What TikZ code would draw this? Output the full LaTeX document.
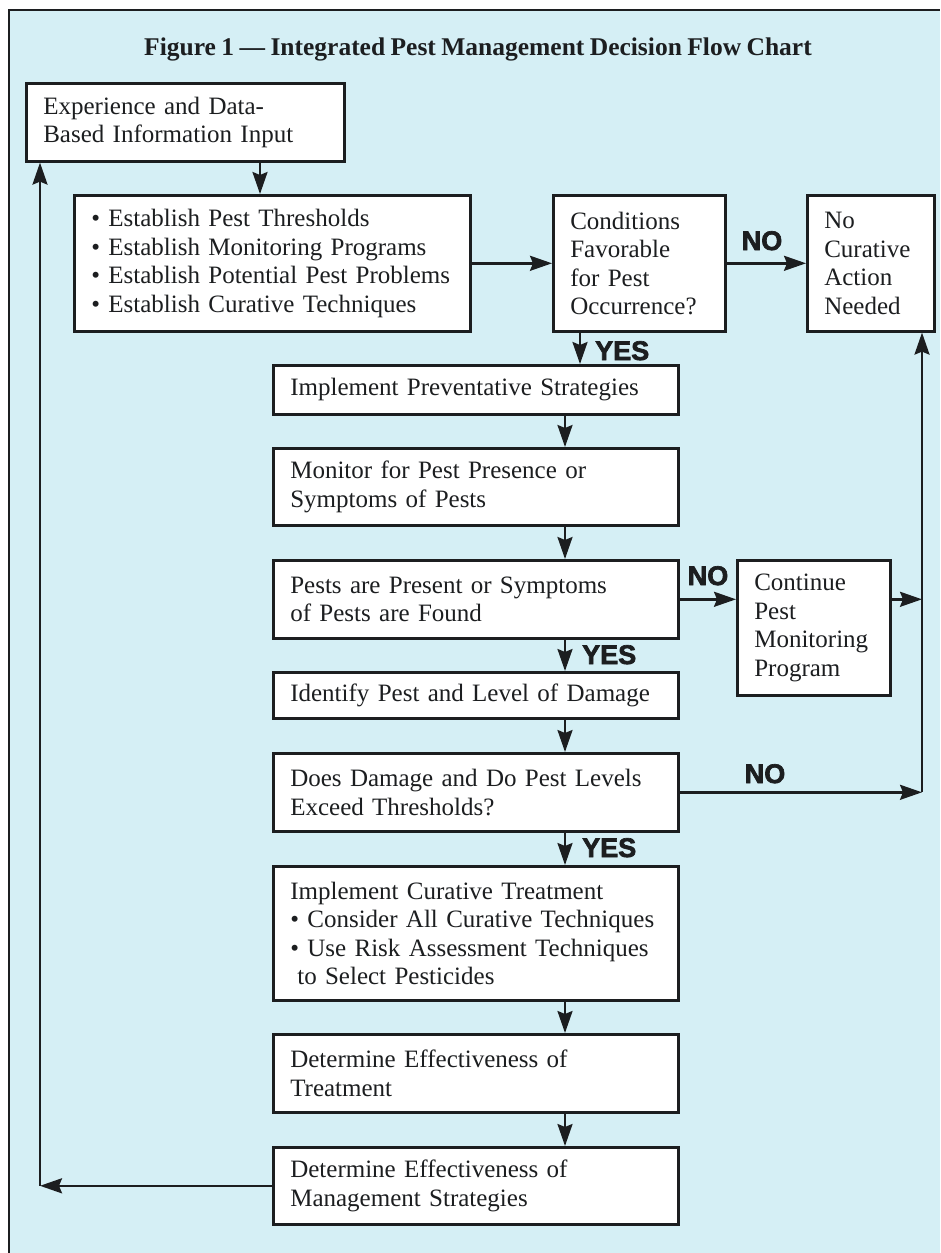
\documentclass[tikz,border=0pt]{standalone}
\usepackage{fontspec}
\setmainfont{Liberation Serif}[WordSpace=0.85]
\setsansfont{Liberation Sans}
\newfontfamily\heavyfont{Liberation Sans}[BoldFeatures={FakeBold=2.5}]
\usetikzlibrary{arrows.meta,calc}
\definecolor{panel}{RGB}{213,239,245}
\definecolor{ink}{RGB}{28,30,32}
\begin{document}
\hyphenpenalty=10000 \exhyphenpenalty=10000
\begin{tikzpicture}[x=1pt,y=-1pt,
  box/.style={draw=ink, fill=white, line width=2.6pt, anchor=north west, inner xsep=17pt, inner ysep=0pt, align=left, font=\fontsize{25}{28.5}\selectfont, text=ink},
  arr/.style={draw=ink, line width=2.4pt, -{Stealth[length=22pt,width=15pt,inset=3pt]}},
  lab/.style={font=\heavyfont\bfseries\fontsize{27}{27}\selectfont, text=ink, inner sep=0pt}]
\useasboundingbox (0,0) rectangle (940,1253);
\fill[white] (0,0) rectangle (940,1253);
\fill[panel] (9,10) rectangle (940,1253);
\draw[ink, line width=2pt] (9,1253) -- (9,10) -- (940,10);

\node[font=\bfseries\fontsize{25.5}{28}\selectfont, text=ink, anchor=base] (title) at (478,55) {Figure 1 — Integrated Pest Management Decision Flow Chart};

% boxes
\node[box, text width=284pt, minimum height=78pt] (A) at (25,82) {\mbox{Experience and Data-}\\\mbox{Based Information Input}};
\node[box, text width=362pt, minimum height=136pt] (B) at (73,194) {\mbox{• Establish Pest Thresholds}\\\mbox{• Establish Monitoring Programs}\\\mbox{• Establish Potential Pest Problems}\\\mbox{• Establish Curative Techniques}};
\node[box, text width=138pt, minimum height=136pt] (C) at (552,194) {\mbox{Conditions}\\\mbox{Favorable}\\\mbox{for Pest}\\\mbox{Occurrence?}};
\node[box, text width=93pt, minimum height=136pt] (D) at (806,194) {\mbox{No}\\\mbox{Curative}\\\mbox{Action}\\\mbox{Needed}};
\node[box, text width=371pt, minimum height=49pt] (E) at (272,364) {\mbox{Implement Preventative Strategies}};
\node[box, text width=371pt, minimum height=77pt] (F) at (272,447) {\mbox{Monitor for Pest Presence or}\\\mbox{Symptoms of Pests}};
\node[box, text width=371pt, minimum height=78pt] (G) at (272,559) {\mbox{Pests are Present or Symptoms}\\\mbox{of Pests are Found}};
\node[box, text width=119pt, minimum height=135pt] (H) at (736,559) {\mbox{Continue}\\\mbox{Pest}\\\mbox{Monitoring}\\\mbox{Program}};
\node[box, text width=371pt, minimum height=46pt] (I) at (272,671) {\mbox{Identify Pest and Level of Damage}};
\node[box, text width=371pt, minimum height=78pt] (J) at (272,752) {\mbox{Does Damage and Do Pest Levels}\\\mbox{Exceed Thresholds?}};
\node[box, text width=371pt, minimum height=134pt] (K) at (272,865) {\mbox{Implement Curative Treatment}\\\mbox{• Consider All Curative Techniques}\\\mbox{• Use Risk Assessment Techniques}\\\mbox{\hspace*{7pt}to Select Pesticides}};
\node[box, text width=371pt, minimum height=78pt] (L) at (272,1033) {\mbox{Determine Effectiveness of}\\\mbox{Treatment}};
\node[box, text width=371pt, minimum height=77pt] (M) at (272,1146) {\mbox{Determine Effectiveness of}\\\mbox{Management Strategies}};

% guide coordinates
\coordinate (xa) at (260,0);
\coordinate (xc) at (580,0);
\coordinate (xm) at (565,0);
\coordinate (xr) at (922,0);
\coordinate (xl) at (40,0);

% connectors
\draw[arr] (A.south -| xa) -- (B.north -| xa);
\draw[arr] (B.east) -- (C.west);
\draw[arr] (C.east) -- (D.west);
\draw[arr] (C.south -| xc) -- (E.north -| xc);
\draw[arr] (E.south -| xm) -- (F.north -| xm);
\draw[arr] (F.south -| xm) -- (G.north -| xm);
\draw[arr] (G.east) -- (G.east -| H.west);
\draw[arr] (G.east -| H.east) -- (G.east -| xr);
\draw[arr] (G.south -| xm) -- (I.north -| xm);
\draw[arr] (I.south -| xm) -- (J.north -| xm);
\draw[arr] (J.east) -- (J.east -| xr);
\draw[arr] (J.east -| xr) -- (D.south -| xr);
\draw[arr] (J.south -| xm) -- (K.north -| xm);
\draw[arr] (K.south -| xm) -- (L.north -| xm);
\draw[arr] (L.south -| xm) -- (M.north -| xm);
\draw[arr] (M.west) -- (M.west -| xl);
\draw[arr] (M.west -| xl) -- (A.south -| xl);

% labels
\node[lab, anchor=base] (no1) at (762,250) {NO};
\node[lab, anchor=base west] (yes1) at (595,360) {YES};
\node[lab, anchor=base] (no2) at (708,585) {NO};
\node[lab, anchor=base west] (yes2) at (582,664) {YES};
\node[lab, anchor=base] (no3) at (765,783) {NO};
\node[lab, anchor=base west] (yes3) at (582,857) {YES};
\end{tikzpicture}
\end{document}
